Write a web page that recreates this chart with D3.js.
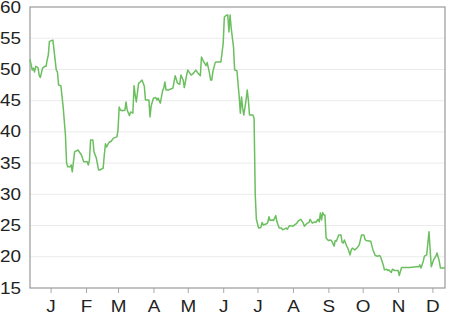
<!DOCTYPE html>
<html>
<head>
<meta charset="utf-8">
<script src="https://cdn.jsdelivr.net/npm/d3@7"></script>
<style>
body { margin: 0; background: #fff; }
svg { display: block; font-family: "Liberation Sans", Arial, Helvetica, sans-serif; }
</style>
</head>
<body>
<svg class="chart"></svg>
<script>
// first trading day shown; days[] are offsets from it
var startDate = new Date(2006, 11, 14);

var days = [0,2,3,4,5,7,8,9,11,13,14,15,16,17,20,21,23,24,25,27,29,31,32,33,35,36,37,38,39,42,
  45,47,50,51,52,53,55,56,58,60,61,64,65,66,67,69,71,73,76,77,78,79,81,83,84,85,87,88,90,91,
  92,93,95,96,98,100,101,104,105,106,108,110,111,112,114,116,117,118,119,121,125,127,129,131,132,134,135,137,138,141,
  143,145,147,149,150,152,154,155,157,158,159,160,162,163,167,169,170,172,173,174,175,176,178,179,181,183,184,185,186,187,
  189,190,191,192,195,196,197,198,200,202,203,204,207,208,209,210,212,213,215,216,218,220,221,224,225,227,230,233,235,237,
  239,240,242,244,245,247,249,250,252,253,254,255,256,257,258,259,261,263,264,266,267,268,270,272,273,274,275,277,278,280,
  281,282,284,286,288,290,292,293,294,298,300,302,304,306,307,309,310,312,313,314,316,317,319,322,323,325,332,338,340,341,
  342,344,345,347,348,349,350,351,353,355,356,358,359,363];

var prices = [51.6,49.9,50.2,49.6,50.5,50.3,49.1,48.7,50.2,50.5,50.5,51.5,52.3,54.5,54.7,53.1,49.9,49.6,47.5,47.4,44.0,39.5,35.0,34.4,34.4,34.7,33.6,35.2,36.8,37.1,
  36.3,35.2,35.2,34.7,35.5,38.7,38.7,36.8,35.8,33.9,33.9,34.2,36.3,38.1,37.6,38.3,38.5,39.0,39.2,40.3,44.0,43.5,43.4,43.5,44.8,43.5,42.6,43.2,43.0,47.4,
  45.9,44.8,47.8,47.9,48.3,47.3,45.1,45.1,42.4,44.2,45.4,45.5,45.1,45.4,44.6,46.6,47.0,48.0,46.7,46.7,47.0,49.0,47.8,47.6,49.1,48.3,47.1,49.1,49.9,49.1,
  49.4,49.9,49.4,49.0,52.0,51.2,50.6,51.1,49.4,48.3,48.3,49.7,51.1,51.2,51.2,54.2,58.4,58.7,58.7,56.0,58.7,56.6,53.6,49.9,49.8,45.6,43.0,45.6,43.8,42.7,
  45.1,46.7,45.1,42.7,42.7,42.2,30.0,26.0,24.6,24.7,25.5,25.1,25.3,25.5,26.4,25.8,25.9,25.8,26.6,25.6,24.6,24.6,24.3,24.6,24.4,25.0,24.9,25.3,25.8,26.0,
  25.4,24.9,25.3,25.5,26.0,25.4,25.6,25.5,26.0,25.6,27.0,25.9,27.1,26.7,26.7,23.0,22.6,22.7,22.5,21.7,22.6,22.5,23.5,23.5,22.3,22.2,22.7,21.7,21.4,20.3,
  21.1,21.4,21.1,21.4,21.9,23.5,23.5,22.8,22.6,22.5,21.1,20.2,20.1,20.2,19.8,18.7,17.9,18.0,17.8,17.9,17.5,18.0,17.8,17.8,17.0,18.3,18.3,18.4,18.4,18.7,
  18.2,19.3,20.1,20.3,22.2,24.0,21.1,18.4,19.5,20.1,20.6,19.3,18.2,18.2];

var monthLabels = ["J","F","M","A","M","J","J","A","S","O","N","D"];
var yTicks = [15,20,25,30,35,40,45,50,55,60];

var margin = {top: 7, right: 14, bottom: 24, left: 30},
    width = 459 - margin.left - margin.right,
    height = 312 - margin.top - margin.bottom;

var fontSize = 16,
    stretch = 1.18; // labels in the original look a bit wide

var data = days.map(function(d, i) {
  return {date: d3.timeDay.offset(startDate, d), price: prices[i]};
});

var x = d3.scaleTime()
    .domain([startDate, d3.timeDay.offset(startDate, days[days.length - 1])])
    .range([0, width]);

var y = d3.scaleLinear()
    .domain([15, 60])
    .range([height, 0]);

var svg = d3.select(".chart")
    .attr("width", 459)
    .attr("height", 312);

var chart = svg.append("g")
    .attr("transform", "translate(" + margin.left + "," + margin.top + ")");

// horizontal grid
chart.selectAll("line.grid")
    .data(yTicks.slice(1, -1))
  .enter().append("line")
    .attr("class", "grid")
    .attr("x1", 0)
    .attr("x2", width)
    .attr("y1", function(d) { return y(d); })
    .attr("y2", function(d) { return y(d); })
    .attr("stroke", "#ebebeb")
    .attr("stroke-width", 1);

// y labels
chart.selectAll("text.ylab")
    .data(yTicks)
  .enter().append("text")
    .attr("class", "ylab")
    .attr("transform", function(d) { return "translate(-9," + y(d) + ") scale(" + stretch + ",1)"; })
    .attr("dy", ".35em")
    .attr("text-anchor", "end")
    .attr("font-size", fontSize)
    .attr("fill", "#222")
    .text(function(d) { return d; });

// x axis, ticks on month starts
var monthStarts = d3.timeMonth.range(new Date(2007, 0, 1), new Date(2007, 11, 2));
var xAxis = d3.axisBottom(x)
    .tickValues(monthStarts)
    .tickSize(5)
    .tickPadding(8)
    .tickFormat(function(d) { return monthLabels[d.getMonth()]; });

var gx = chart.append("g")
    .attr("transform", "translate(0," + height + ")")
    .call(xAxis);
gx.select(".domain").remove();
gx.selectAll("line").attr("stroke", "#aaa");
gx.selectAll("text")
    .attr("transform", "scale(" + stretch + ",1)")
    .attr("font-size", fontSize)
    .attr("font-family", "Liberation Sans, Arial, Helvetica, sans-serif")
    .attr("fill", "#222");

// frame
chart.append("rect")
    .attr("x", 0)
    .attr("y", 0)
    .attr("width", width)
    .attr("height", height)
    .attr("fill", "none")
    .attr("stroke", "#999")
    .attr("stroke-width", 1.2);

var line = d3.line()
    .x(function(d) { return x(d.date); })
    .y(function(d) { return y(d.price); });

chart.append("path")
    .datum(data)
    .attr("fill", "none")
    .attr("stroke", "#6bbf5f")
    .attr("stroke-width", 1.5)
    .attr("stroke-linejoin", "round")
    .attr("d", line);
</script>
</body>
</html>
